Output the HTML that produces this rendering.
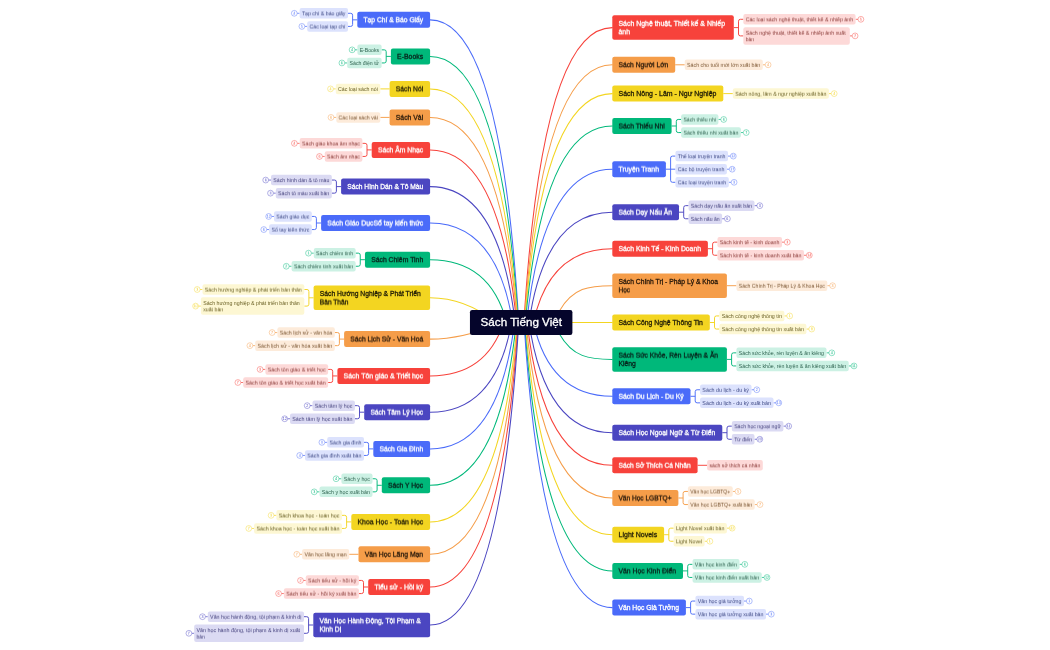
<!DOCTYPE html>
<html lang="vi">
<head>
<meta charset="utf-8">
<title>Sách Tiếng Việt</title>
<style>
html,body{margin:0;padding:0;background:#fff;}
body{width:1050px;height:650px;overflow:hidden;font-family:"Liberation Sans",sans-serif;}
svg{display:block;will-change:transform;}
</style>
</head>
<body>
<svg width="1050" height="650" viewBox="0 0 1050 650" font-family="'Liberation Sans', sans-serif">
<g fill="none" stroke-width="1.05" stroke-linecap="round">
<path class="mc" d="M430.1 19.85 Q500.74 19.85 518.74 322.4" stroke="#4a6bf9"/>
<path class="mc" d="M430.1 56.4 Q500.58 56.4 518.35 322.4" stroke="#00b87a"/>
<path class="mc" d="M430.1 88.9 Q500.36 88.9 517.9 322.4" stroke="#f3d521"/>
<path class="mc" d="M430.1 117.4 Q500.09 117.4 517.38 322.4" stroke="#f59d49"/>
<path class="mc" d="M430.1 149.9 Q499.63 149.9 516.57 322.4" stroke="#f7423b"/>
<path class="mc" d="M430.1 186.6 Q498.68 186.6 515.16 322.4" stroke="#4b46c1"/>
<path class="mc" d="M430.1 223 Q496.61 223 512.63 322.4" stroke="#4a6bf9"/>
<path class="mc" d="M430.1 259.7 Q490.16 259.7 506.67 322.4" stroke="#00b87a"/>
<path class="mc" d="M430.1 297.8 Q465 297.8 495.9 322.4" stroke="#f3d521"/>
<path class="mc" d="M430.1 339.1 Q461.4 339.1 505.6 322.4" stroke="#f59d49"/>
<path class="mc" d="M430.1 375.95 Q486.28 375.95 503.71 322.4" stroke="#f7423b"/>
<path class="mc" d="M430.1 412.2 Q495.63 412.2 511.58 322.4" stroke="#4b46c1"/>
<path class="mc" d="M430.1 448.9 Q498.31 448.9 514.66 322.4" stroke="#4a6bf9"/>
<path class="mc" d="M430.1 485.3 Q499.44 485.3 516.27 322.4" stroke="#00b87a"/>
<path class="mc" d="M430.1 521.9 Q500.03 521.9 517.27 322.4" stroke="#f3d521"/>
<path class="mc" d="M430.1 554.3 Q500.35 554.3 517.88 322.4" stroke="#f59d49"/>
<path class="mc" d="M430.1 587 Q500.57 587 518.34 322.4" stroke="#f7423b"/>
<path class="mc" d="M430.1 625 Q500.74 625 518.74 322.4" stroke="#4b46c1"/>
<path class="mc" d="M612.3 27.6 Q541.89 27.6 523.93 322.4" stroke="#f7423b"/>
<path class="mc" d="M612.3 64.8 Q542.07 64.8 524.35 322.4" stroke="#f59d49"/>
<path class="mc" d="M612.3 93.6 Q542.28 93.6 524.77 322.4" stroke="#f3d521"/>
<path class="mc" d="M612.3 126 Q542.61 126 525.4 322.4" stroke="#00b87a"/>
<path class="mc" d="M612.3 169.2 Q543.39 169.2 526.68 322.4" stroke="#4a6bf9"/>
<path class="mc" d="M612.3 212.2 Q545.17 212.2 529.03 322.4" stroke="#4b46c1"/>
<path class="mc" d="M612.3 248.7 Q549.51 248.7 533.45 322.4" stroke="#f7423b"/>
<path class="mc" d="M559.1 311.4 C572.84 287.44 589.21 285.7 612.3 285.7" stroke="#f59d49"/>
<path class="mc" d="M521.3 322.4 L612.3 322.5" stroke="#f3d521"/>
<path class="mc" d="M559.1 333.4 C572.84 357.36 589.21 359.4 612.3 359.4" stroke="#00b87a"/>
<path class="mc" d="M612.3 396.3 Q549.47 396.3 533.42 322.4" stroke="#4a6bf9"/>
<path class="mc" d="M612.3 432.7 Q545.16 432.7 529.03 322.4" stroke="#4b46c1"/>
<path class="mc" d="M612.3 465.3 Q543.68 465.3 527.11 322.4" stroke="#f7423b"/>
<path class="mc" d="M612.3 498 Q542.92 498 525.94 322.4" stroke="#f59d49"/>
<path class="mc" d="M612.3 534.7 Q542.43 534.7 525.07 322.4" stroke="#f3d521"/>
<path class="mc" d="M612.3 570.9 Q542.13 570.9 524.47 322.4" stroke="#00b87a"/>
<path class="mc" d="M612.3 607.6 Q541.93 607.6 524.03 322.4" stroke="#4a6bf9"/>
</g>
<g fill="none">
<path d="M357.3 19.85 H352.6 M348 13.3 H350.7 Q352.6 13.3 352.6 15.2 V24.5 Q352.6 26.4 350.7 26.4 H348" stroke="#4a6bf9" stroke-width="0.95"/>
<path d="M299.6 13.3 H297.1" stroke="#4a6bf9" stroke-width="0.7"/>
<circle cx="294.3" cy="13.3" r="2.9" fill="#fff" stroke="#4a6bf9" stroke-width="0.5" stroke-opacity="0.85"/>
<path d="M307.2 26.4 H304.7" stroke="#4a6bf9" stroke-width="0.7"/>
<circle cx="301.9" cy="26.4" r="2.9" fill="#fff" stroke="#4a6bf9" stroke-width="0.5" stroke-opacity="0.85"/>
<path d="M390.9 56.4 H386.2 M381.6 49.85 H384.3 Q386.2 49.85 386.2 51.75 V61.05 Q386.2 62.95 384.3 62.95 H381.6" stroke="#00b87a" stroke-width="0.95"/>
<path d="M357.4 49.85 H354.9" stroke="#00b87a" stroke-width="0.7"/>
<circle cx="352.1" cy="49.85" r="2.9" fill="#fff" stroke="#00b87a" stroke-width="0.5" stroke-opacity="0.85"/>
<path d="M347.2 62.95 H344.7" stroke="#00b87a" stroke-width="0.7"/>
<circle cx="341.9" cy="62.95" r="2.9" fill="#fff" stroke="#00b87a" stroke-width="0.5" stroke-opacity="0.85"/>
<path d="M389.6 88.9 H380.3" stroke="#f3d521" stroke-width="0.95"/>
<path d="M335.8 88.9 H333.3" stroke="#f3d521" stroke-width="0.7"/>
<circle cx="330.5" cy="88.9" r="2.9" fill="#fff" stroke="#f3d521" stroke-width="0.5" stroke-opacity="0.85"/>
<path d="M389.6 117.4 H380.3" stroke="#f59d49" stroke-width="0.95"/>
<path d="M336.3 117.4 H333.8" stroke="#f59d49" stroke-width="0.7"/>
<circle cx="331" cy="117.4" r="2.9" fill="#fff" stroke="#f59d49" stroke-width="0.5" stroke-opacity="0.85"/>
<path d="M371.7 149.9 H367 M362.4 143.35 H365.1 Q367 143.35 367 145.25 V154.55 Q367 156.45 365.1 156.45 H362.4" stroke="#f7423b" stroke-width="0.95"/>
<path d="M299.7 143.35 H297.2" stroke="#f7423b" stroke-width="0.7"/>
<circle cx="294.4" cy="143.35" r="2.9" fill="#fff" stroke="#f7423b" stroke-width="0.5" stroke-opacity="0.85"/>
<path d="M324.8 156.45 H322.3" stroke="#f7423b" stroke-width="0.7"/>
<circle cx="319.5" cy="156.45" r="2.9" fill="#fff" stroke="#f7423b" stroke-width="0.5" stroke-opacity="0.85"/>
<path d="M341.1 186.6 H336.4 M331.8 180.05 H334.5 Q336.4 180.05 336.4 181.95 V191.25 Q336.4 193.15 334.5 193.15 H331.8" stroke="#4b46c1" stroke-width="0.95"/>
<path d="M271 180.05 H268.5" stroke="#4b46c1" stroke-width="0.7"/>
<circle cx="265.7" cy="180.05" r="2.9" fill="#fff" stroke="#4b46c1" stroke-width="0.5" stroke-opacity="0.85"/>
<path d="M275.8 193.15 H273.3" stroke="#4b46c1" stroke-width="0.7"/>
<circle cx="270.5" cy="193.15" r="2.9" fill="#fff" stroke="#4b46c1" stroke-width="0.5" stroke-opacity="0.85"/>
<path d="M321.1 223 H316.4 M311.8 216.45 H314.5 Q316.4 216.45 316.4 218.35 V227.65 Q316.4 229.55 314.5 229.55 H311.8" stroke="#4a6bf9" stroke-width="0.95"/>
<path d="M274 216.45 H271.5" stroke="#4a6bf9" stroke-width="0.7"/>
<circle cx="268.7" cy="216.45" r="2.9" fill="#fff" stroke="#4a6bf9" stroke-width="0.5" stroke-opacity="0.85"/>
<path d="M269.1 229.55 H266.6" stroke="#4a6bf9" stroke-width="0.7"/>
<circle cx="263.8" cy="229.55" r="2.9" fill="#fff" stroke="#4a6bf9" stroke-width="0.5" stroke-opacity="0.85"/>
<path d="M364.95 259.7 H360.25 M355.65 253.15 H358.35 Q360.25 253.15 360.25 255.05 V264.35 Q360.25 266.25 358.35 266.25 H355.65" stroke="#00b87a" stroke-width="0.95"/>
<path d="M313.8 253.15 H311.3" stroke="#00b87a" stroke-width="0.7"/>
<circle cx="308.5" cy="253.15" r="2.9" fill="#fff" stroke="#00b87a" stroke-width="0.5" stroke-opacity="0.85"/>
<path d="M291.6 266.25 H289.1" stroke="#00b87a" stroke-width="0.7"/>
<circle cx="286.3" cy="266.25" r="2.9" fill="#fff" stroke="#00b87a" stroke-width="0.5" stroke-opacity="0.85"/>
<path d="M313.6 297.8 H308.9 M304.3 289.5 H307 Q308.9 289.5 308.9 291.4 V304.2 Q308.9 306.1 307 306.1 H304.3" stroke="#f3d521" stroke-width="0.95"/>
<path d="M202.5 289.5 H200" stroke="#f3d521" stroke-width="0.7"/>
<circle cx="197.2" cy="289.5" r="2.9" fill="#fff" stroke="#f3d521" stroke-width="0.5" stroke-opacity="0.85"/>
<path d="M200.9 306.1 H198.4" stroke="#f3d521" stroke-width="0.7"/>
<circle cx="195.6" cy="306.1" r="2.9" fill="#fff" stroke="#f3d521" stroke-width="0.5" stroke-opacity="0.85"/>
<path d="M344.1 339.1 H339.4 M334.8 332.55 H337.5 Q339.4 332.55 339.4 334.45 V343.75 Q339.4 345.65 337.5 345.65 H334.8" stroke="#f59d49" stroke-width="0.95"/>
<path d="M277.4 332.55 H274.9" stroke="#f59d49" stroke-width="0.7"/>
<circle cx="272.1" cy="332.55" r="2.9" fill="#fff" stroke="#f59d49" stroke-width="0.5" stroke-opacity="0.85"/>
<path d="M255.2 345.65 H252.7" stroke="#f59d49" stroke-width="0.7"/>
<circle cx="249.9" cy="345.65" r="2.9" fill="#fff" stroke="#f59d49" stroke-width="0.5" stroke-opacity="0.85"/>
<path d="M337.4 375.95 H332.7 M328.1 369.4 H330.8 Q332.7 369.4 332.7 371.3 V380.6 Q332.7 382.5 330.8 382.5 H328.1" stroke="#f7423b" stroke-width="0.95"/>
<path d="M265.4 369.4 H262.9" stroke="#f7423b" stroke-width="0.7"/>
<circle cx="260.1" cy="369.4" r="2.9" fill="#fff" stroke="#f7423b" stroke-width="0.5" stroke-opacity="0.85"/>
<path d="M243.2 382.5 H240.7" stroke="#f7423b" stroke-width="0.7"/>
<circle cx="237.9" cy="382.5" r="2.9" fill="#fff" stroke="#f7423b" stroke-width="0.5" stroke-opacity="0.85"/>
<path d="M364.2 412.2 H359.5 M354.9 405.65 H357.6 Q359.5 405.65 359.5 407.55 V416.85 Q359.5 418.75 357.6 418.75 H354.9" stroke="#4b46c1" stroke-width="0.95"/>
<path d="M312.5 405.65 H310" stroke="#4b46c1" stroke-width="0.7"/>
<circle cx="307.2" cy="405.65" r="2.9" fill="#fff" stroke="#4b46c1" stroke-width="0.5" stroke-opacity="0.85"/>
<path d="M290 418.75 H287.5" stroke="#4b46c1" stroke-width="0.7"/>
<circle cx="284.7" cy="418.75" r="2.9" fill="#fff" stroke="#4b46c1" stroke-width="0.5" stroke-opacity="0.85"/>
<path d="M373.3 448.9 H368.6 M364 442.35 H366.7 Q368.6 442.35 368.6 444.25 V453.55 Q368.6 455.45 366.7 455.45 H364" stroke="#4a6bf9" stroke-width="0.95"/>
<path d="M327.2 442.35 H324.7" stroke="#4a6bf9" stroke-width="0.7"/>
<circle cx="321.9" cy="442.35" r="2.9" fill="#fff" stroke="#4a6bf9" stroke-width="0.5" stroke-opacity="0.85"/>
<path d="M305 455.45 H302.5" stroke="#4a6bf9" stroke-width="0.7"/>
<circle cx="299.7" cy="455.45" r="2.9" fill="#fff" stroke="#4a6bf9" stroke-width="0.5" stroke-opacity="0.85"/>
<path d="M381.8 485.3 H377.1 M372.5 478.75 H375.2 Q377.1 478.75 377.1 480.65 V489.95 Q377.1 491.85 375.2 491.85 H372.5" stroke="#00b87a" stroke-width="0.95"/>
<path d="M341.4 478.75 H338.9" stroke="#00b87a" stroke-width="0.7"/>
<circle cx="336.1" cy="478.75" r="2.9" fill="#fff" stroke="#00b87a" stroke-width="0.5" stroke-opacity="0.85"/>
<path d="M319.5 491.85 H317" stroke="#00b87a" stroke-width="0.7"/>
<circle cx="314.2" cy="491.85" r="2.9" fill="#fff" stroke="#00b87a" stroke-width="0.5" stroke-opacity="0.85"/>
<path d="M351.3 521.9 H346.6 M342 515.35 H344.7 Q346.6 515.35 346.6 517.25 V526.55 Q346.6 528.45 344.7 528.45 H342" stroke="#f3d521" stroke-width="0.95"/>
<path d="M276.4 515.35 H273.9" stroke="#f3d521" stroke-width="0.7"/>
<circle cx="271.1" cy="515.35" r="2.9" fill="#fff" stroke="#f3d521" stroke-width="0.5" stroke-opacity="0.85"/>
<path d="M254.1 528.45 H251.6" stroke="#f3d521" stroke-width="0.7"/>
<circle cx="248.8" cy="528.45" r="2.9" fill="#fff" stroke="#f3d521" stroke-width="0.5" stroke-opacity="0.85"/>
<path d="M358.5 554.3 H349.2" stroke="#f59d49" stroke-width="0.95"/>
<path d="M302.1 554.3 H299.6" stroke="#f59d49" stroke-width="0.7"/>
<circle cx="296.8" cy="554.3" r="2.9" fill="#fff" stroke="#f59d49" stroke-width="0.5" stroke-opacity="0.85"/>
<path d="M368.2 587 H363.5 M358.9 580.45 H361.6 Q363.5 580.45 363.5 582.35 V591.65 Q363.5 593.55 361.6 593.55 H358.9" stroke="#f7423b" stroke-width="0.95"/>
<path d="M305.8 580.45 H303.3" stroke="#f7423b" stroke-width="0.7"/>
<circle cx="300.5" cy="580.45" r="2.9" fill="#fff" stroke="#f7423b" stroke-width="0.5" stroke-opacity="0.85"/>
<path d="M283.9 593.55 H281.4" stroke="#f7423b" stroke-width="0.7"/>
<circle cx="278.6" cy="593.55" r="2.9" fill="#fff" stroke="#f7423b" stroke-width="0.5" stroke-opacity="0.85"/>
<path d="M313.3 625 H308.6 M304 616.7 H306.7 Q308.6 616.7 308.6 618.6 V631.4 Q308.6 633.3 306.7 633.3 H304" stroke="#4b46c1" stroke-width="0.95"/>
<path d="M207.8 616.7 H205.3" stroke="#4b46c1" stroke-width="0.7"/>
<circle cx="202.5" cy="616.7" r="2.9" fill="#fff" stroke="#4b46c1" stroke-width="0.5" stroke-opacity="0.85"/>
<path d="M194.2 633.3 H191.7" stroke="#4b46c1" stroke-width="0.7"/>
<circle cx="188.9" cy="633.3" r="2.9" fill="#fff" stroke="#4b46c1" stroke-width="0.5" stroke-opacity="0.85"/>
<path d="M733.8 27.6 H738.5 M743.35 19.3 H740.4 Q738.5 19.3 738.5 21.2 V34 Q738.5 35.9 740.4 35.9 H743.35" stroke="#f7423b" stroke-width="0.95"/>
<path d="M855.6 19.3 H858.1" stroke="#f7423b" stroke-width="0.7"/>
<circle cx="860.9" cy="19.3" r="2.9" fill="#fff" stroke="#f7423b" stroke-width="0.5" stroke-opacity="0.85"/>
<path d="M849.8 35.9 H852.3" stroke="#f7423b" stroke-width="0.7"/>
<circle cx="855.1" cy="35.9" r="2.9" fill="#fff" stroke="#f7423b" stroke-width="0.5" stroke-opacity="0.85"/>
<path d="M675.2 64.8 H684.75" stroke="#f59d49" stroke-width="0.95"/>
<path d="M762.8 64.8 H765.3" stroke="#f59d49" stroke-width="0.7"/>
<circle cx="768.1" cy="64.8" r="2.9" fill="#fff" stroke="#f59d49" stroke-width="0.5" stroke-opacity="0.85"/>
<path d="M723.3 93.6 H732.85" stroke="#f3d521" stroke-width="0.95"/>
<path d="M828.9 93.6 H831.4" stroke="#f3d521" stroke-width="0.7"/>
<circle cx="834.2" cy="93.6" r="2.9" fill="#fff" stroke="#f3d521" stroke-width="0.5" stroke-opacity="0.85"/>
<path d="M671.6 126 H676.3 M681.15 119.45 H678.2 Q676.3 119.45 676.3 121.35 V130.65 Q676.3 132.55 678.2 132.55 H681.15" stroke="#00b87a" stroke-width="0.95"/>
<path d="M718.4 119.45 H720.9" stroke="#00b87a" stroke-width="0.7"/>
<circle cx="723.7" cy="119.45" r="2.9" fill="#fff" stroke="#00b87a" stroke-width="0.5" stroke-opacity="0.85"/>
<path d="M740.9 132.55 H743.4" stroke="#00b87a" stroke-width="0.7"/>
<circle cx="746.2" cy="132.55" r="2.9" fill="#fff" stroke="#00b87a" stroke-width="0.5" stroke-opacity="0.85"/>
<path d="M665.9 169.2 H670.6 M675.45 156.1 H672.5 Q670.6 156.1 670.6 158 V180.4 Q670.6 182.3 672.5 182.3 H675.45 M670.6 169.2 H675.45" stroke="#4a6bf9" stroke-width="0.95"/>
<path d="M728 156.1 H730.5" stroke="#4a6bf9" stroke-width="0.7"/>
<circle cx="733.3" cy="156.1" r="2.9" fill="#fff" stroke="#4a6bf9" stroke-width="0.5" stroke-opacity="0.85"/>
<path d="M726.9 169.2 H729.4" stroke="#4a6bf9" stroke-width="0.7"/>
<circle cx="732.2" cy="169.2" r="2.9" fill="#fff" stroke="#4a6bf9" stroke-width="0.5" stroke-opacity="0.85"/>
<path d="M728.8 182.3 H731.3" stroke="#4a6bf9" stroke-width="0.7"/>
<circle cx="734.1" cy="182.3" r="2.9" fill="#fff" stroke="#4a6bf9" stroke-width="0.5" stroke-opacity="0.85"/>
<path d="M679 212.2 H683.7 M688.55 205.65 H685.6 Q683.7 205.65 683.7 207.55 V216.85 Q683.7 218.75 685.6 218.75 H688.55" stroke="#4b46c1" stroke-width="0.95"/>
<path d="M754.5 205.65 H757" stroke="#4b46c1" stroke-width="0.7"/>
<circle cx="759.8" cy="205.65" r="2.9" fill="#fff" stroke="#4b46c1" stroke-width="0.5" stroke-opacity="0.85"/>
<path d="M722.1 218.75 H724.6" stroke="#4b46c1" stroke-width="0.7"/>
<circle cx="727.4" cy="218.75" r="2.9" fill="#fff" stroke="#4b46c1" stroke-width="0.5" stroke-opacity="0.85"/>
<path d="M707.9 248.7 H712.6 M717.45 242.15 H714.5 Q712.6 242.15 712.6 244.05 V253.35 Q712.6 255.25 714.5 255.25 H717.45" stroke="#f7423b" stroke-width="0.95"/>
<path d="M782 242.15 H784.5" stroke="#f7423b" stroke-width="0.7"/>
<circle cx="787.3" cy="242.15" r="2.9" fill="#fff" stroke="#f7423b" stroke-width="0.5" stroke-opacity="0.85"/>
<path d="M804 255.25 H806.5" stroke="#f7423b" stroke-width="0.7"/>
<circle cx="809.3" cy="255.25" r="2.9" fill="#fff" stroke="#f7423b" stroke-width="0.5" stroke-opacity="0.85"/>
<path d="M726.9 285.7 H736.45" stroke="#f59d49" stroke-width="0.95"/>
<path d="M827.3 285.7 H829.8" stroke="#f59d49" stroke-width="0.7"/>
<circle cx="832.6" cy="285.7" r="2.9" fill="#fff" stroke="#f59d49" stroke-width="0.5" stroke-opacity="0.85"/>
<path d="M709.8 322.5 H714.5 M719.35 315.95 H716.4 Q714.5 315.95 714.5 317.85 V327.15 Q714.5 329.05 716.4 329.05 H719.35" stroke="#f3d521" stroke-width="0.95"/>
<path d="M784.4 315.95 H786.9" stroke="#f3d521" stroke-width="0.7"/>
<circle cx="789.7" cy="315.95" r="2.9" fill="#fff" stroke="#f3d521" stroke-width="0.5" stroke-opacity="0.85"/>
<path d="M806.4 329.05 H808.9" stroke="#f3d521" stroke-width="0.7"/>
<circle cx="811.7" cy="329.05" r="2.9" fill="#fff" stroke="#f3d521" stroke-width="0.5" stroke-opacity="0.85"/>
<path d="M726.9 359.4 H731.6 M736.45 352.85 H733.5 Q731.6 352.85 731.6 354.75 V364.05 Q731.6 365.95 733.5 365.95 H736.45" stroke="#00b87a" stroke-width="0.95"/>
<path d="M826.5 352.85 H829" stroke="#00b87a" stroke-width="0.7"/>
<circle cx="831.8" cy="352.85" r="2.9" fill="#fff" stroke="#00b87a" stroke-width="0.5" stroke-opacity="0.85"/>
<path d="M848.7 365.95 H851.2" stroke="#00b87a" stroke-width="0.7"/>
<circle cx="854" cy="365.95" r="2.9" fill="#fff" stroke="#00b87a" stroke-width="0.5" stroke-opacity="0.85"/>
<path d="M690.5 396.3 H695.2 M700.05 389.75 H697.1 Q695.2 389.75 695.2 391.65 V400.95 Q695.2 402.85 697.1 402.85 H700.05" stroke="#4a6bf9" stroke-width="0.95"/>
<path d="M751.5 389.75 H754" stroke="#4a6bf9" stroke-width="0.7"/>
<circle cx="756.8" cy="389.75" r="2.9" fill="#fff" stroke="#4a6bf9" stroke-width="0.5" stroke-opacity="0.85"/>
<path d="M773.5 402.85 H776" stroke="#4a6bf9" stroke-width="0.7"/>
<circle cx="778.8" cy="402.85" r="2.9" fill="#fff" stroke="#4a6bf9" stroke-width="0.5" stroke-opacity="0.85"/>
<path d="M722.3 432.7 H727 M731.85 426.15 H728.9 Q727 426.15 727 428.05 V437.35 Q727 439.25 728.9 439.25 H731.85" stroke="#4b46c1" stroke-width="0.95"/>
<path d="M783.4 426.15 H785.9" stroke="#4b46c1" stroke-width="0.7"/>
<circle cx="788.7" cy="426.15" r="2.9" fill="#fff" stroke="#4b46c1" stroke-width="0.5" stroke-opacity="0.85"/>
<path d="M754.5 439.25 H757" stroke="#4b46c1" stroke-width="0.7"/>
<circle cx="759.8" cy="439.25" r="2.9" fill="#fff" stroke="#4b46c1" stroke-width="0.5" stroke-opacity="0.85"/>
<path d="M697.6 465.3 H707.15" stroke="#f7423b" stroke-width="0.95"/>
<path d="M678.4 498 H683.1 M687.95 491.45 H685 Q683.1 491.45 683.1 493.35 V502.65 Q683.1 504.55 685 504.55 H687.95" stroke="#f59d49" stroke-width="0.95"/>
<path d="M732.7 491.45 H735.2" stroke="#f59d49" stroke-width="0.7"/>
<circle cx="738" cy="491.45" r="2.9" fill="#fff" stroke="#f59d49" stroke-width="0.5" stroke-opacity="0.85"/>
<path d="M754.7 504.55 H757.2" stroke="#f59d49" stroke-width="0.7"/>
<circle cx="760" cy="504.55" r="2.9" fill="#fff" stroke="#f59d49" stroke-width="0.5" stroke-opacity="0.85"/>
<path d="M664.1 534.7 H668.8 M673.65 528.15 H670.7 Q668.8 528.15 668.8 530.05 V539.35 Q668.8 541.25 670.7 541.25 H673.65" stroke="#f3d521" stroke-width="0.95"/>
<path d="M726.9 528.15 H729.4" stroke="#f3d521" stroke-width="0.7"/>
<circle cx="732.2" cy="528.15" r="2.9" fill="#fff" stroke="#f3d521" stroke-width="0.5" stroke-opacity="0.85"/>
<path d="M704.6 541.25 H707.1" stroke="#f3d521" stroke-width="0.7"/>
<circle cx="709.9" cy="541.25" r="2.9" fill="#fff" stroke="#f3d521" stroke-width="0.5" stroke-opacity="0.85"/>
<path d="M683 570.9 H687.7 M692.55 564.35 H689.6 Q687.7 564.35 687.7 566.25 V575.55 Q687.7 577.45 689.6 577.45 H692.55" stroke="#00b87a" stroke-width="0.95"/>
<path d="M739.5 564.35 H742" stroke="#00b87a" stroke-width="0.7"/>
<circle cx="744.8" cy="564.35" r="2.9" fill="#fff" stroke="#00b87a" stroke-width="0.5" stroke-opacity="0.85"/>
<path d="M761.7 577.45 H764.2" stroke="#00b87a" stroke-width="0.7"/>
<circle cx="767" cy="577.45" r="2.9" fill="#fff" stroke="#00b87a" stroke-width="0.5" stroke-opacity="0.85"/>
<path d="M685.9 607.6 H690.6 M695.45 601.05 H692.5 Q690.6 601.05 690.6 602.95 V612.25 Q690.6 614.15 692.5 614.15 H695.45" stroke="#4a6bf9" stroke-width="0.95"/>
<path d="M744 601.05 H746.5" stroke="#4a6bf9" stroke-width="0.7"/>
<circle cx="749.3" cy="601.05" r="2.9" fill="#fff" stroke="#4a6bf9" stroke-width="0.5" stroke-opacity="0.85"/>
<path d="M766 614.15 H768.5" stroke="#4a6bf9" stroke-width="0.7"/>
<circle cx="771.3" cy="614.15" r="2.9" fill="#fff" stroke="#4a6bf9" stroke-width="0.5" stroke-opacity="0.85"/>
</g>
<g>
<rect x="357.3" y="11.85" width="72.8" height="16" rx="2" fill="#4a6bf9"/>
<rect x="299.6" y="8.05" width="48.4" height="10.5" rx="2" fill="#dce2fd"/>
<rect x="307.2" y="21.15" width="40.8" height="10.5" rx="2" fill="#dce2fd"/>
<rect x="390.9" y="48.4" width="39.2" height="16" rx="2" fill="#00b87a"/>
<rect x="357.4" y="44.6" width="24.2" height="10.5" rx="2" fill="#ccf1e4"/>
<rect x="347.2" y="57.7" width="34.4" height="10.5" rx="2" fill="#ccf1e4"/>
<rect x="389.6" y="80.9" width="40.5" height="16" rx="2" fill="#f3d521"/>
<rect x="335.8" y="83.65" width="44.5" height="10.5" rx="2" fill="#fdf7d3"/>
<rect x="389.6" y="109.4" width="40.5" height="16" rx="2" fill="#f59d49"/>
<rect x="336.3" y="112.15" width="44" height="10.5" rx="2" fill="#fdebda"/>
<rect x="371.7" y="141.9" width="58.4" height="16" rx="2" fill="#f7423b"/>
<rect x="299.7" y="138.1" width="62.7" height="10.5" rx="2" fill="#fdd9d8"/>
<rect x="324.8" y="151.2" width="37.6" height="10.5" rx="2" fill="#fdd9d8"/>
<rect x="341.1" y="178.6" width="89" height="16" rx="2" fill="#4b46c1"/>
<rect x="271" y="174.8" width="60.8" height="10.5" rx="2" fill="#dbdaf3"/>
<rect x="275.8" y="187.9" width="56" height="10.5" rx="2" fill="#dbdaf3"/>
<rect x="321.1" y="215" width="109" height="16" rx="2" fill="#4a6bf9"/>
<rect x="274" y="211.2" width="37.8" height="10.5" rx="2" fill="#dce2fd"/>
<rect x="269.1" y="224.3" width="42.7" height="10.5" rx="2" fill="#dce2fd"/>
<rect x="364.95" y="251.7" width="65.15" height="16" rx="2" fill="#00b87a"/>
<rect x="313.8" y="247.9" width="41.85" height="10.5" rx="2" fill="#ccf1e4"/>
<rect x="291.6" y="261" width="64.05" height="10.5" rx="2" fill="#ccf1e4"/>
<rect x="313.6" y="285.55" width="116.5" height="24.5" rx="2" fill="#f3d521"/>
<rect x="202.5" y="284.25" width="101.8" height="10.5" rx="2" fill="#fdf7d3"/>
<rect x="200.9" y="297.35" width="103.4" height="17.5" rx="2" fill="#fdf7d3"/>
<rect x="344.1" y="331.1" width="86" height="16" rx="2" fill="#f59d49"/>
<rect x="277.4" y="327.3" width="57.4" height="10.5" rx="2" fill="#fdebda"/>
<rect x="255.2" y="340.4" width="79.6" height="10.5" rx="2" fill="#fdebda"/>
<rect x="337.4" y="367.95" width="92.7" height="16" rx="2" fill="#f7423b"/>
<rect x="265.4" y="364.15" width="62.7" height="10.5" rx="2" fill="#fdd9d8"/>
<rect x="243.2" y="377.25" width="84.9" height="10.5" rx="2" fill="#fdd9d8"/>
<rect x="364.2" y="404.2" width="65.9" height="16" rx="2" fill="#4b46c1"/>
<rect x="312.5" y="400.4" width="42.4" height="10.5" rx="2" fill="#dbdaf3"/>
<rect x="290" y="413.5" width="64.9" height="10.5" rx="2" fill="#dbdaf3"/>
<rect x="373.3" y="440.9" width="56.8" height="16" rx="2" fill="#4a6bf9"/>
<rect x="327.2" y="437.1" width="36.8" height="10.5" rx="2" fill="#dce2fd"/>
<rect x="305" y="450.2" width="59" height="10.5" rx="2" fill="#dce2fd"/>
<rect x="381.8" y="477.3" width="48.3" height="16" rx="2" fill="#00b87a"/>
<rect x="341.4" y="473.5" width="31.1" height="10.5" rx="2" fill="#ccf1e4"/>
<rect x="319.5" y="486.6" width="53" height="10.5" rx="2" fill="#ccf1e4"/>
<rect x="351.3" y="513.9" width="78.8" height="16" rx="2" fill="#f3d521"/>
<rect x="276.4" y="510.1" width="65.6" height="10.5" rx="2" fill="#fdf7d3"/>
<rect x="254.1" y="523.2" width="87.9" height="10.5" rx="2" fill="#fdf7d3"/>
<rect x="358.5" y="546.3" width="71.6" height="16" rx="2" fill="#f59d49"/>
<rect x="302.1" y="549.05" width="47.1" height="10.5" rx="2" fill="#fdebda"/>
<rect x="368.2" y="579" width="61.9" height="16" rx="2" fill="#f7423b"/>
<rect x="305.8" y="575.2" width="53.1" height="10.5" rx="2" fill="#fdd9d8"/>
<rect x="283.9" y="588.3" width="75" height="10.5" rx="2" fill="#fdd9d8"/>
<rect x="313.3" y="612.75" width="116.8" height="24.5" rx="2" fill="#4b46c1"/>
<rect x="207.8" y="611.45" width="96.2" height="10.5" rx="2" fill="#dbdaf3"/>
<rect x="194.2" y="624.55" width="109.8" height="17.5" rx="2" fill="#dbdaf3"/>
<rect x="612.3" y="15.35" width="121.5" height="24.5" rx="2" fill="#f7423b"/>
<rect x="743.35" y="14.05" width="112.25" height="10.5" rx="2" fill="#fdd9d8"/>
<rect x="743.35" y="27.15" width="106.45" height="17.5" rx="2" fill="#fdd9d8"/>
<rect x="612.3" y="56.8" width="62.9" height="16" rx="2" fill="#f59d49"/>
<rect x="684.75" y="59.55" width="78.05" height="10.5" rx="2" fill="#fdebda"/>
<rect x="612.3" y="85.6" width="111" height="16" rx="2" fill="#f3d521"/>
<rect x="732.85" y="88.35" width="96.05" height="10.5" rx="2" fill="#fdf7d3"/>
<rect x="612.3" y="118" width="59.3" height="16" rx="2" fill="#00b87a"/>
<rect x="681.15" y="114.2" width="37.25" height="10.5" rx="2" fill="#ccf1e4"/>
<rect x="681.15" y="127.3" width="59.75" height="10.5" rx="2" fill="#ccf1e4"/>
<rect x="612.3" y="161.2" width="53.6" height="16" rx="2" fill="#4a6bf9"/>
<rect x="675.45" y="150.85" width="52.55" height="10.5" rx="2" fill="#dce2fd"/>
<rect x="675.45" y="163.95" width="51.45" height="10.5" rx="2" fill="#dce2fd"/>
<rect x="675.45" y="177.05" width="53.35" height="10.5" rx="2" fill="#dce2fd"/>
<rect x="612.3" y="204.2" width="66.7" height="16" rx="2" fill="#4b46c1"/>
<rect x="688.55" y="200.4" width="65.95" height="10.5" rx="2" fill="#dbdaf3"/>
<rect x="688.55" y="213.5" width="33.55" height="10.5" rx="2" fill="#dbdaf3"/>
<rect x="612.3" y="240.7" width="95.6" height="16" rx="2" fill="#f7423b"/>
<rect x="717.45" y="236.9" width="64.55" height="10.5" rx="2" fill="#fdd9d8"/>
<rect x="717.45" y="250" width="86.55" height="10.5" rx="2" fill="#fdd9d8"/>
<rect x="612.3" y="273.45" width="114.6" height="24.5" rx="2" fill="#f59d49"/>
<rect x="736.45" y="280.45" width="90.85" height="10.5" rx="2" fill="#fdebda"/>
<rect x="612.3" y="314.5" width="97.5" height="16" rx="2" fill="#f3d521"/>
<rect x="719.35" y="310.7" width="65.05" height="10.5" rx="2" fill="#fdf7d3"/>
<rect x="719.35" y="323.8" width="87.05" height="10.5" rx="2" fill="#fdf7d3"/>
<rect x="612.3" y="347.15" width="114.6" height="24.5" rx="2" fill="#00b87a"/>
<rect x="736.45" y="347.6" width="90.05" height="10.5" rx="2" fill="#ccf1e4"/>
<rect x="736.45" y="360.7" width="112.25" height="10.5" rx="2" fill="#ccf1e4"/>
<rect x="612.3" y="388.3" width="78.2" height="16" rx="2" fill="#4a6bf9"/>
<rect x="700.05" y="384.5" width="51.45" height="10.5" rx="2" fill="#dce2fd"/>
<rect x="700.05" y="397.6" width="73.45" height="10.5" rx="2" fill="#dce2fd"/>
<rect x="612.3" y="424.7" width="110" height="16" rx="2" fill="#4b46c1"/>
<rect x="731.85" y="420.9" width="51.55" height="10.5" rx="2" fill="#dbdaf3"/>
<rect x="731.85" y="434" width="22.65" height="10.5" rx="2" fill="#dbdaf3"/>
<rect x="612.3" y="457.3" width="85.3" height="16" rx="2" fill="#f7423b"/>
<rect x="707.15" y="460.05" width="55.65" height="10.5" rx="2" fill="#fdd9d8"/>
<rect x="612.3" y="490" width="66.1" height="16" rx="2" fill="#f59d49"/>
<rect x="687.95" y="486.2" width="44.75" height="10.5" rx="2" fill="#fdebda"/>
<rect x="687.95" y="499.3" width="66.75" height="10.5" rx="2" fill="#fdebda"/>
<rect x="612.3" y="526.7" width="51.8" height="16" rx="2" fill="#f3d521"/>
<rect x="673.65" y="522.9" width="53.25" height="10.5" rx="2" fill="#fdf7d3"/>
<rect x="673.65" y="536" width="30.95" height="10.5" rx="2" fill="#fdf7d3"/>
<rect x="612.3" y="562.9" width="70.7" height="16" rx="2" fill="#00b87a"/>
<rect x="692.55" y="559.1" width="46.95" height="10.5" rx="2" fill="#ccf1e4"/>
<rect x="692.55" y="572.2" width="69.15" height="10.5" rx="2" fill="#ccf1e4"/>
<rect x="612.3" y="599.6" width="73.6" height="16" rx="2" fill="#4a6bf9"/>
<rect x="695.45" y="595.8" width="48.55" height="10.5" rx="2" fill="#dce2fd"/>
<rect x="695.45" y="608.9" width="70.55" height="10.5" rx="2" fill="#dce2fd"/>
<rect x="469.95" y="309.95" width="102.45" height="25" rx="2.2" fill="#05052b"/>
</g>
<defs>
<filter id="s1" filterUnits="userSpaceOnUse" x="0" y="0" width="1050" height="650" color-interpolation-filters="sRGB"><feConvolveMatrix order="1 2" kernelMatrix="0.875 0.125" targetX="0" targetY="1" edgeMode="none" preserveAlpha="false"/></filter>
<filter id="s2" filterUnits="userSpaceOnUse" x="0" y="0" width="1050" height="650" color-interpolation-filters="sRGB"><feConvolveMatrix order="1 2" kernelMatrix="0.75 0.25" targetX="0" targetY="1" edgeMode="none" preserveAlpha="false"/></filter>
<filter id="s3" filterUnits="userSpaceOnUse" x="0" y="0" width="1050" height="650" color-interpolation-filters="sRGB"><feConvolveMatrix order="1 2" kernelMatrix="0.625 0.375" targetX="0" targetY="1" edgeMode="none" preserveAlpha="false"/></filter>
<filter id="s4" filterUnits="userSpaceOnUse" x="0" y="0" width="1050" height="650" color-interpolation-filters="sRGB"><feConvolveMatrix order="1 2" kernelMatrix="0.5 0.5" targetX="0" targetY="1" edgeMode="none" preserveAlpha="false"/></filter>
<filter id="s5" filterUnits="userSpaceOnUse" x="0" y="0" width="1050" height="650" color-interpolation-filters="sRGB"><feConvolveMatrix order="1 2" kernelMatrix="0.375 0.625" targetX="0" targetY="1" edgeMode="none" preserveAlpha="false"/></filter>
<filter id="s6" filterUnits="userSpaceOnUse" x="0" y="0" width="1050" height="650" color-interpolation-filters="sRGB"><feConvolveMatrix order="1 2" kernelMatrix="0.25 0.75" targetX="0" targetY="1" edgeMode="none" preserveAlpha="false"/></filter>
<filter id="s7" filterUnits="userSpaceOnUse" x="0" y="0" width="1050" height="650" color-interpolation-filters="sRGB"><feConvolveMatrix order="1 2" kernelMatrix="0.125 0.875" targetX="0" targetY="1" edgeMode="none" preserveAlpha="false"/></filter>
</defs>
<g>
<text x="359.7" y="52" font-size="5.8" fill="#2f6350" textLength="19.4" lengthAdjust="spacingAndGlyphs">E-Books</text>
<text x="349.5" y="65" font-size="5.8" fill="#2f6350" textLength="29.6" lengthAdjust="spacingAndGlyphs">Sách điện tử</text>
<text x="338.1" y="91" font-size="5.8" fill="#6b6125" textLength="39.7" lengthAdjust="spacingAndGlyphs">Các loại sách nói</text>
<text x="347.3" y="189" font-size="7.3" fill="#ffffff" stroke="#ffffff" stroke-width="0.3" textLength="75.9" lengthAdjust="spacingAndGlyphs">Sách Hình Dán &amp; Tô Màu</text>
<text x="319.8" y="296" font-size="7.3" fill="#211d06" stroke="#211d06" stroke-width="0.3" textLength="100.9" lengthAdjust="spacingAndGlyphs">Sách Hướng Nghiệp &amp; Phát Triển</text>
<text x="203.2" y="305" font-size="5.8" fill="#6b6125" textLength="96.6" lengthAdjust="spacingAndGlyphs">Sách hướng nghiệp &amp; phát triển bản thân</text>
<text x="249.9" y="347" font-size="3.7" text-anchor="middle" fill="#f59d49">4</text>
<text x="307.2" y="407" font-size="3.7" text-anchor="middle" fill="#4b46c1">2</text>
<text x="284.7" y="420" font-size="3.7" text-anchor="middle" fill="#4b46c1">12</text>
<text x="336.1" y="480" font-size="3.7" text-anchor="middle" fill="#00b87a">4</text>
<text x="321.8" y="494" font-size="5.8" fill="#2f6350" textLength="48.2" lengthAdjust="spacingAndGlyphs">Sách y học xuất bản</text>
<text x="202.5" y="618" font-size="3.7" text-anchor="middle" fill="#4b46c1">3</text>
<text x="618.5" y="96" font-size="7.3" fill="#211d06" stroke="#211d06" stroke-width="0.3" textLength="97.9" lengthAdjust="spacingAndGlyphs">Sách Nông - Lâm - Ngư Nghiệp</text>
<text x="759.8" y="207" font-size="3.7" text-anchor="middle" fill="#4b46c1">3</text>
<text x="727.4" y="220" font-size="3.7" text-anchor="middle" fill="#4b46c1">6</text>
<text x="618.5" y="284" font-size="7.3" fill="#27180a" stroke="#27180a" stroke-width="0.3" textLength="99.6" lengthAdjust="spacingAndGlyphs">Sách Chính Trị - Pháp Lý &amp; Khoa</text>
<text x="832.6" y="287" font-size="3.7" text-anchor="middle" fill="#f59d49">3</text>
<text x="618.5" y="325" font-size="7.3" fill="#211d06" stroke="#211d06" stroke-width="0.3" textLength="84.4" lengthAdjust="spacingAndGlyphs">Sách Công Nghệ Thông Tin</text>
<text x="721.65" y="318" font-size="5.8" fill="#6b6125" textLength="60.25" lengthAdjust="spacingAndGlyphs">Sách công nghệ thông tin</text>
<text x="618.5" y="366" font-size="7.3" fill="#07211a" stroke="#07211a" stroke-width="0.3" textLength="17.4" lengthAdjust="spacingAndGlyphs">Kiêng</text>
<text x="738.75" y="355" font-size="5.8" fill="#2f6350" textLength="85.25" lengthAdjust="spacingAndGlyphs">Sách sức khỏe, rèn luyện &amp; ăn kiêng</text>
<text x="738.75" y="368" font-size="5.8" fill="#2f6350" textLength="107.45" lengthAdjust="spacingAndGlyphs">Sách sức khỏe, rèn luyện &amp; ăn kiêng xuất bản</text>
<text x="756.8" y="391" font-size="3.7" text-anchor="middle" fill="#4a6bf9">2</text>
<text x="702.35" y="405" font-size="5.8" fill="#3f4a86" textLength="68.65" lengthAdjust="spacingAndGlyphs">Sách du lịch - du ký xuất bản</text>
<text x="618.5" y="610" font-size="7.3" fill="#ffffff" stroke="#ffffff" stroke-width="0.3" textLength="60.5" lengthAdjust="spacingAndGlyphs">Văn Học Giả Tưởng</text>
</g>
<g filter="url(#s1)">
<text x="352.1" y="51" font-size="3.7" text-anchor="middle" fill="#00b87a">4</text>
<text x="273.3" y="182" font-size="5.8" fill="#46437e" textLength="56" lengthAdjust="spacingAndGlyphs">Sách hình dán &amp; tô màu</text>
<text x="371.15" y="262" font-size="7.3" fill="#07211a" stroke="#07211a" stroke-width="0.3" textLength="52.05" lengthAdjust="spacingAndGlyphs">Sách Chiêm Tinh</text>
<text x="314.2" y="493" font-size="3.7" text-anchor="middle" fill="#00b87a">3</text>
<text x="196.5" y="632" font-size="5.8" fill="#46437e" textLength="103.6" lengthAdjust="spacingAndGlyphs">Văn học hành động, tội phạm &amp; kinh dị xuất</text>
<text x="768.1" y="66" font-size="3.7" text-anchor="middle" fill="#f59d49">4</text>
<text x="618.5" y="251" font-size="7.3" fill="#ffffff" stroke="#ffffff" stroke-width="0.3" textLength="82.5" lengthAdjust="spacingAndGlyphs">Sách Kinh Tế - Kinh Doanh</text>
<text x="721.65" y="331" font-size="5.8" fill="#6b6125" textLength="82.25" lengthAdjust="spacingAndGlyphs">Sách công nghệ thông tin xuất bản</text>
<text x="831.8" y="354" font-size="3.7" text-anchor="middle" fill="#00b87a">4</text>
<text x="778.8" y="404" font-size="3.7" text-anchor="middle" fill="#4a6bf9">13</text>
<text x="618.5" y="435" font-size="7.3" fill="#ffffff" stroke="#ffffff" stroke-width="0.3" textLength="96.9" lengthAdjust="spacingAndGlyphs">Sách Học Ngoại Ngữ &amp; Từ Điển</text>
<text x="618.5" y="537" font-size="7.3" fill="#211d06" stroke="#211d06" stroke-width="0.3" textLength="38.7" lengthAdjust="spacingAndGlyphs">Light Novels</text>
<text x="697.75" y="603" font-size="5.8" fill="#3f4a86" textLength="43.75" lengthAdjust="spacingAndGlyphs">Văn học giả tưởng</text>
</g>
<g filter="url(#s2)">
<text x="363.5" y="22" font-size="7.3" fill="#ffffff" stroke="#ffffff" stroke-width="0.3" textLength="59.7" lengthAdjust="spacingAndGlyphs">Tạp Chí &amp; Báo Giấy</text>
<text x="341.9" y="64" font-size="3.7" text-anchor="middle" fill="#00b87a">6</text>
<text x="330.5" y="90" font-size="3.7" text-anchor="middle" fill="#f3d521">4</text>
<text x="278.1" y="195" font-size="5.8" fill="#46437e" textLength="51.2" lengthAdjust="spacingAndGlyphs">Sách tô màu xuất bản</text>
<text x="316.1" y="255" font-size="5.8" fill="#2f6350" textLength="37.05" lengthAdjust="spacingAndGlyphs">Sách chiêm tinh</text>
<text x="319.5" y="623" font-size="7.3" fill="#ffffff" stroke="#ffffff" stroke-width="0.3" textLength="101.4" lengthAdjust="spacingAndGlyphs">Văn Học Hành Động, Tội Phạm &amp;</text>
<text x="618.5" y="34" font-size="7.3" fill="#ffffff" stroke="#ffffff" stroke-width="0.3" textLength="11.5" lengthAdjust="spacingAndGlyphs">ảnh</text>
<text x="745.65" y="41" font-size="5.8" fill="#8a3a37" textLength="8.4" lengthAdjust="spacingAndGlyphs">bản</text>
<text x="855.1" y="37" font-size="3.7" text-anchor="middle" fill="#f7423b">7</text>
<text x="618.5" y="67" font-size="7.3" fill="#27180a" stroke="#27180a" stroke-width="0.3" textLength="49.8" lengthAdjust="spacingAndGlyphs">Sách Người Lớn</text>
<text x="677.75" y="158" font-size="5.8" fill="#3f4a86" textLength="47.75" lengthAdjust="spacingAndGlyphs">Thể loại truyện tranh</text>
<text x="677.75" y="171" font-size="5.8" fill="#3f4a86" textLength="46.65" lengthAdjust="spacingAndGlyphs">Các bộ truyện tranh</text>
<text x="719.75" y="244" font-size="5.8" fill="#8a3a37" textLength="59.75" lengthAdjust="spacingAndGlyphs">Sách kinh tế - kinh doanh</text>
<text x="789.7" y="317" font-size="3.7" text-anchor="middle" fill="#f3d521">1</text>
<text x="854" y="367" font-size="3.7" text-anchor="middle" fill="#00b87a">11</text>
<text x="734.15" y="428" font-size="5.8" fill="#46437e" textLength="46.75" lengthAdjust="spacingAndGlyphs">Sách học ngoại ngữ</text>
<text x="675.95" y="530" font-size="5.8" fill="#6b6125" textLength="48.45" lengthAdjust="spacingAndGlyphs">Light Novel xuất bản</text>
<text x="697.75" y="616" font-size="5.8" fill="#3f4a86" textLength="65.75" lengthAdjust="spacingAndGlyphs">Văn học giả tưởng xuất bản</text>
</g>
<g filter="url(#s3)">
<text x="301.9" y="15" font-size="5.8" fill="#3f4a86" textLength="43.6" lengthAdjust="spacingAndGlyphs">Tạp chí &amp; báo giấy</text>
<text x="395.8" y="91" font-size="7.3" fill="#211d06" stroke="#211d06" stroke-width="0.3" textLength="27.4" lengthAdjust="spacingAndGlyphs">Sách Nói</text>
<text x="377.9" y="152" font-size="7.3" fill="#ffffff" stroke="#ffffff" stroke-width="0.3" textLength="45.3" lengthAdjust="spacingAndGlyphs">Sách Âm Nhạc</text>
<text x="265.7" y="181" font-size="3.7" text-anchor="middle" fill="#4b46c1">6</text>
<text x="293.9" y="268" font-size="5.8" fill="#2f6350" textLength="59.25" lengthAdjust="spacingAndGlyphs">Sách chiêm tinh xuất bản</text>
<text x="203.2" y="311" font-size="5.8" fill="#6b6125" textLength="20" lengthAdjust="spacingAndGlyphs">xuất bản</text>
<text x="195.6" y="307" font-size="3.7" text-anchor="middle" fill="#f3d521">10</text>
<text x="343.6" y="378" font-size="7.3" fill="#ffffff" stroke="#ffffff" stroke-width="0.3" textLength="79.6" lengthAdjust="spacingAndGlyphs">Sách Tôn giáo &amp; Triết học</text>
<text x="379.5" y="451" font-size="7.3" fill="#ffffff" stroke="#ffffff" stroke-width="0.3" textLength="43.7" lengthAdjust="spacingAndGlyphs">Sách Gia Đình</text>
<text x="357.5" y="524" font-size="7.3" fill="#211d06" stroke="#211d06" stroke-width="0.3" textLength="65.7" lengthAdjust="spacingAndGlyphs">Khoa Học - Toán Học</text>
<text x="304.4" y="556" font-size="5.8" fill="#7a5531" textLength="42.3" lengthAdjust="spacingAndGlyphs">Văn học lãng mạn</text>
<text x="745.65" y="21" font-size="5.8" fill="#8a3a37" textLength="107.45" lengthAdjust="spacingAndGlyphs">Các loại sách nghệ thuật, thiết kế &amp; nhiếp ảnh</text>
<text x="733.3" y="157" font-size="3.7" text-anchor="middle" fill="#4a6bf9">12</text>
<text x="677.75" y="184" font-size="5.8" fill="#3f4a86" textLength="48.55" lengthAdjust="spacingAndGlyphs">Các loại truyện tranh</text>
<text x="719.75" y="257" font-size="5.8" fill="#8a3a37" textLength="81.75" lengthAdjust="spacingAndGlyphs">Sách kinh tế - kinh doanh xuất bản</text>
<text x="618.5" y="292" font-size="7.3" fill="#27180a" stroke="#27180a" stroke-width="0.3" textLength="11.6" lengthAdjust="spacingAndGlyphs">Học</text>
<text x="811.7" y="330" font-size="3.7" text-anchor="middle" fill="#f3d521">9</text>
<text x="734.15" y="441" font-size="5.8" fill="#46437e" textLength="17.85" lengthAdjust="spacingAndGlyphs">Từ điển</text>
<text x="709.45" y="467" font-size="5.8" fill="#8a3a37" textLength="50.85" lengthAdjust="spacingAndGlyphs">sách sở thích cá nhân</text>
<text x="675.95" y="543" font-size="5.8" fill="#6b6125" textLength="26.15" lengthAdjust="spacingAndGlyphs">Light Novel</text>
<text x="618.5" y="573" font-size="7.3" fill="#07211a" stroke="#07211a" stroke-width="0.3" textLength="57.6" lengthAdjust="spacingAndGlyphs">Văn Học Kinh Điển</text>
<text x="749.3" y="602" font-size="3.7" text-anchor="middle" fill="#4a6bf9">1</text>
</g>
<g filter="url(#s4)">
<text x="309.5" y="28" font-size="5.8" fill="#3f4a86" textLength="36" lengthAdjust="spacingAndGlyphs">Các loại tạp chí</text>
<text x="338.6" y="119" font-size="5.8" fill="#7a5531" textLength="39.2" lengthAdjust="spacingAndGlyphs">Các loại sách vải</text>
<text x="302" y="145" font-size="5.8" fill="#8a3a37" textLength="57.9" lengthAdjust="spacingAndGlyphs">Sách giáo khoa âm nhạc</text>
<text x="327.1" y="158" font-size="5.8" fill="#8a3a37" textLength="32.8" lengthAdjust="spacingAndGlyphs">Sách âm nhạc</text>
<text x="270.5" y="194" font-size="3.7" text-anchor="middle" fill="#4b46c1">3</text>
<text x="327.3" y="225" font-size="7.3" fill="#ffffff" stroke="#ffffff" stroke-width="0.3" textLength="95.9" lengthAdjust="spacingAndGlyphs">Sách Giáo DụcSổ tay kiến thức</text>
<text x="276.3" y="218" font-size="5.8" fill="#3f4a86" textLength="33" lengthAdjust="spacingAndGlyphs">Sách giáo dục</text>
<text x="308.5" y="254" font-size="3.7" text-anchor="middle" fill="#00b87a">1</text>
<text x="286.3" y="267" font-size="3.7" text-anchor="middle" fill="#00b87a">2</text>
<text x="319.8" y="304" font-size="7.3" fill="#211d06" stroke="#211d06" stroke-width="0.3" textLength="28.6" lengthAdjust="spacingAndGlyphs">Bản Thân</text>
<text x="350.3" y="341" font-size="7.3" fill="#27180a" stroke="#27180a" stroke-width="0.3" textLength="72.9" lengthAdjust="spacingAndGlyphs">Sách Lịch Sử - Văn Hoá</text>
<text x="267.7" y="371" font-size="5.8" fill="#8a3a37" textLength="57.9" lengthAdjust="spacingAndGlyphs">Sách tôn giáo &amp; triết học</text>
<text x="329.5" y="444" font-size="5.8" fill="#3f4a86" textLength="32" lengthAdjust="spacingAndGlyphs">Sách gia đình</text>
<text x="307.3" y="457" font-size="5.8" fill="#3f4a86" textLength="54.2" lengthAdjust="spacingAndGlyphs">Sách gia đình xuất bản</text>
<text x="278.7" y="517" font-size="5.8" fill="#6b6125" textLength="60.8" lengthAdjust="spacingAndGlyphs">Sách khoa học - toán học</text>
<text x="256.4" y="530" font-size="5.8" fill="#6b6125" textLength="83.1" lengthAdjust="spacingAndGlyphs">Sách khoa học - toán học xuất bản</text>
<text x="374.4" y="589" font-size="7.3" fill="#ffffff" stroke="#ffffff" stroke-width="0.3" textLength="48.8" lengthAdjust="spacingAndGlyphs">Tiểu sử - Hồi ký</text>
<text x="308.1" y="582" font-size="5.8" fill="#8a3a37" textLength="48.3" lengthAdjust="spacingAndGlyphs">Sách tiểu sử - hồi ký</text>
<text x="618.5" y="128" font-size="7.3" fill="#07211a" stroke="#07211a" stroke-width="0.3" textLength="46.2" lengthAdjust="spacingAndGlyphs">Sách Thiếu Nhi</text>
<text x="683.45" y="121" font-size="5.8" fill="#2f6350" textLength="32.45" lengthAdjust="spacingAndGlyphs">Sách thiếu nhi</text>
<text x="732.2" y="170" font-size="3.7" text-anchor="middle" fill="#4a6bf9">17</text>
<text x="787.3" y="243" font-size="3.7" text-anchor="middle" fill="#f7423b">3</text>
<text x="809.3" y="256" font-size="3.7" text-anchor="middle" fill="#f7423b">14</text>
<text x="788.7" y="427" font-size="3.7" text-anchor="middle" fill="#4b46c1">11</text>
<text x="759.8" y="440" font-size="3.7" text-anchor="middle" fill="#4b46c1">23</text>
<text x="618.5" y="500" font-size="7.3" fill="#27180a" stroke="#27180a" stroke-width="0.3" textLength="53" lengthAdjust="spacingAndGlyphs">Văn Học LGBTQ+</text>
<text x="690.25" y="493" font-size="5.8" fill="#7a5531" textLength="39.95" lengthAdjust="spacingAndGlyphs">Văn học LGBTQ+</text>
<text x="732.2" y="529" font-size="3.7" text-anchor="middle" fill="#f3d521">42</text>
<text x="709.9" y="542" font-size="3.7" text-anchor="middle" fill="#f3d521">1</text>
<text x="694.85" y="566" font-size="5.8" fill="#2f6350" textLength="42.15" lengthAdjust="spacingAndGlyphs">Văn học kinh điển</text>
<text x="694.85" y="579" font-size="5.8" fill="#2f6350" textLength="64.35" lengthAdjust="spacingAndGlyphs">Văn học kinh điển xuất bản</text>
<text x="771.3" y="615" font-size="3.7" text-anchor="middle" fill="#4a6bf9">3</text>
</g>
<g filter="url(#s5)">
<text x="294.3" y="14" font-size="3.7" text-anchor="middle" fill="#4a6bf9">4</text>
<text x="294.4" y="144" font-size="3.7" text-anchor="middle" fill="#f7423b">4</text>
<text x="271.4" y="231" font-size="5.8" fill="#3f4a86" textLength="37.9" lengthAdjust="spacingAndGlyphs">Sổ tay kiến thức</text>
<text x="204.8" y="291" font-size="5.8" fill="#6b6125" textLength="97" lengthAdjust="spacingAndGlyphs">Sách hướng nghiệp &amp; phát triển bản thân</text>
<text x="279.7" y="334" font-size="5.8" fill="#7a5531" textLength="52.6" lengthAdjust="spacingAndGlyphs">Sách lịch sử - văn hóa</text>
<text x="245.5" y="384" font-size="5.8" fill="#8a3a37" textLength="80.1" lengthAdjust="spacingAndGlyphs">Sách tôn giáo &amp; triết học xuất bản</text>
<text x="370.4" y="414" font-size="7.3" fill="#ffffff" stroke="#ffffff" stroke-width="0.3" textLength="52.8" lengthAdjust="spacingAndGlyphs">Sách Tâm Lý Học</text>
<text x="321.9" y="443" font-size="3.7" text-anchor="middle" fill="#4a6bf9">3</text>
<text x="271.1" y="516" font-size="3.7" text-anchor="middle" fill="#f3d521">3</text>
<text x="296.8" y="555" font-size="3.7" text-anchor="middle" fill="#f59d49">7</text>
<text x="286.2" y="595" font-size="5.8" fill="#8a3a37" textLength="70.2" lengthAdjust="spacingAndGlyphs">Sách tiểu sử - hồi ký xuất bản</text>
<text x="319.5" y="631" font-size="7.3" fill="#ffffff" stroke="#ffffff" stroke-width="0.3" textLength="21.7" lengthAdjust="spacingAndGlyphs">Kinh Dị</text>
<text x="196.5" y="638" font-size="5.8" fill="#46437e" textLength="8.4" lengthAdjust="spacingAndGlyphs">bản</text>
<text x="188.9" y="634" font-size="3.7" text-anchor="middle" fill="#4b46c1">7</text>
<text x="860.9" y="20" font-size="3.7" text-anchor="middle" fill="#f7423b">5</text>
<text x="683.45" y="134" font-size="5.8" fill="#2f6350" textLength="54.95" lengthAdjust="spacingAndGlyphs">Sách thiếu nhi xuất bản</text>
<text x="618.5" y="171" font-size="7.3" fill="#ffffff" stroke="#ffffff" stroke-width="0.3" textLength="40.5" lengthAdjust="spacingAndGlyphs">Truyện Tranh</text>
<text x="734.1" y="183" font-size="3.7" text-anchor="middle" fill="#4a6bf9">3</text>
<text x="618.5" y="214" font-size="7.3" fill="#ffffff" stroke="#ffffff" stroke-width="0.3" textLength="53.6" lengthAdjust="spacingAndGlyphs">Sách Dạy Nấu Ăn</text>
<text x="618.5" y="357" font-size="7.3" fill="#07211a" stroke="#07211a" stroke-width="0.3" textLength="99.6" lengthAdjust="spacingAndGlyphs">Sách Sức Khỏe, Rèn Luyện &amp; Ăn</text>
<text x="690.25" y="506" font-size="5.8" fill="#7a5531" textLength="61.95" lengthAdjust="spacingAndGlyphs">Văn học LGBTQ+ xuất bản</text>
<text x="744.8" y="565" font-size="3.7" text-anchor="middle" fill="#00b87a">6</text>
</g>
<g filter="url(#s6)">
<text x="301.9" y="27" font-size="3.7" text-anchor="middle" fill="#4a6bf9">5</text>
<text x="331" y="118" font-size="3.7" text-anchor="middle" fill="#f59d49">6</text>
<text x="319.5" y="157" font-size="3.7" text-anchor="middle" fill="#f7423b">6</text>
<text x="268.7" y="217" font-size="3.7" text-anchor="middle" fill="#4a6bf9">12</text>
<text x="197.2" y="290" font-size="3.7" text-anchor="middle" fill="#f3d521">3</text>
<text x="257.5" y="347" font-size="5.8" fill="#7a5531" textLength="74.8" lengthAdjust="spacingAndGlyphs">Sách lịch sử - văn hóa xuất bản</text>
<text x="260.1" y="370" font-size="3.7" text-anchor="middle" fill="#f7423b">3</text>
<text x="237.9" y="383" font-size="3.7" text-anchor="middle" fill="#f7423b">7</text>
<text x="314.8" y="407" font-size="5.8" fill="#46437e" textLength="37.6" lengthAdjust="spacingAndGlyphs">Sách tâm lý học</text>
<text x="299.7" y="456" font-size="3.7" text-anchor="middle" fill="#4a6bf9">4</text>
<text x="388" y="487" font-size="7.3" fill="#07211a" stroke="#07211a" stroke-width="0.3" textLength="35.2" lengthAdjust="spacingAndGlyphs">Sách Y Học</text>
<text x="248.8" y="529" font-size="3.7" text-anchor="middle" fill="#f3d521">7</text>
<text x="364.7" y="556" font-size="7.3" fill="#27180a" stroke="#27180a" stroke-width="0.3" textLength="58.5" lengthAdjust="spacingAndGlyphs">Văn Học Lãng Mạn</text>
<text x="300.5" y="581" font-size="3.7" text-anchor="middle" fill="#f7423b">2</text>
<text x="210.1" y="618" font-size="5.8" fill="#46437e" textLength="91.4" lengthAdjust="spacingAndGlyphs">Văn học hành động, tội phạm &amp; kinh dị</text>
<text x="745.65" y="34" font-size="5.8" fill="#8a3a37" textLength="100.1" lengthAdjust="spacingAndGlyphs">Sách nghệ thuật, thiết kế &amp; nhiếp ảnh xuất</text>
<text x="735.15" y="95" font-size="5.8" fill="#6b6125" textLength="91.25" lengthAdjust="spacingAndGlyphs">Sách nông, lâm &amp; ngư nghiệp xuất bản</text>
<text x="723.7" y="120" font-size="3.7" text-anchor="middle" fill="#00b87a">6</text>
<text x="690.85" y="207" font-size="5.8" fill="#46437e" textLength="61.15" lengthAdjust="spacingAndGlyphs">Sách dạy nấu ăn xuất bản</text>
<text x="738.75" y="287" font-size="5.8" fill="#7a5531" textLength="86.05" lengthAdjust="spacingAndGlyphs">Sách Chính Trị - Pháp Lý &amp; Khoa Học</text>
<text x="618.5" y="398" font-size="7.3" fill="#ffffff" stroke="#ffffff" stroke-width="0.3" textLength="65.1" lengthAdjust="spacingAndGlyphs">Sách Du Lịch - Du Ký</text>
<text x="618.5" y="467" font-size="7.3" fill="#ffffff" stroke="#ffffff" stroke-width="0.3" textLength="72.2" lengthAdjust="spacingAndGlyphs">Sách Sở Thích Cá Nhân</text>
<text x="738" y="492" font-size="3.7" text-anchor="middle" fill="#f59d49">5</text>
<text x="767" y="578" font-size="3.7" text-anchor="middle" fill="#00b87a">12</text>
</g>
<g filter="url(#s7)">
<text x="397.1" y="58" font-size="7.3" fill="#07211a" stroke="#07211a" stroke-width="0.3" textLength="26.1" lengthAdjust="spacingAndGlyphs">E-Books</text>
<text x="395.8" y="119" font-size="7.3" fill="#27180a" stroke="#27180a" stroke-width="0.3" textLength="27.4" lengthAdjust="spacingAndGlyphs">Sách Vải</text>
<text x="263.8" y="230" font-size="3.7" text-anchor="middle" fill="#4a6bf9">6</text>
<text x="272.1" y="333" font-size="3.7" text-anchor="middle" fill="#f59d49">7</text>
<text x="292.3" y="420" font-size="5.8" fill="#46437e" textLength="60.1" lengthAdjust="spacingAndGlyphs">Sách tâm lý học xuất bản</text>
<text x="343.7" y="480" font-size="5.8" fill="#2f6350" textLength="26.3" lengthAdjust="spacingAndGlyphs">Sách y học</text>
<text x="278.6" y="594" font-size="3.7" text-anchor="middle" fill="#f7423b">6</text>
<text x="618.5" y="25" font-size="7.3" fill="#ffffff" stroke="#ffffff" stroke-width="0.3" textLength="106.5" lengthAdjust="spacingAndGlyphs">Sách Nghệ thuật, Thiết kế &amp; Nhiếp</text>
<text x="687.05" y="66" font-size="5.8" fill="#7a5531" textLength="73.25" lengthAdjust="spacingAndGlyphs">Sách cho tuổi mới lớn xuất bản</text>
<text x="834.2" y="94" font-size="3.7" text-anchor="middle" fill="#f3d521">4</text>
<text x="746.2" y="133" font-size="3.7" text-anchor="middle" fill="#00b87a">7</text>
<text x="690.85" y="220" font-size="5.8" fill="#46437e" textLength="28.75" lengthAdjust="spacingAndGlyphs">Sách nấu ăn</text>
<text x="702.35" y="391" font-size="5.8" fill="#3f4a86" textLength="46.65" lengthAdjust="spacingAndGlyphs">Sách du lịch - du ký</text>
<text x="760" y="505" font-size="3.7" text-anchor="middle" fill="#f59d49">7</text>
</g>
<g>
<text x="521.3" y="326" font-size="10.9" fill="#fff" text-anchor="middle" textLength="81.4" lengthAdjust="spacingAndGlyphs" stroke="#fff" stroke-width="0.3">Sách Tiếng Việt</text>
</g>
</svg>
</body>
</html>
